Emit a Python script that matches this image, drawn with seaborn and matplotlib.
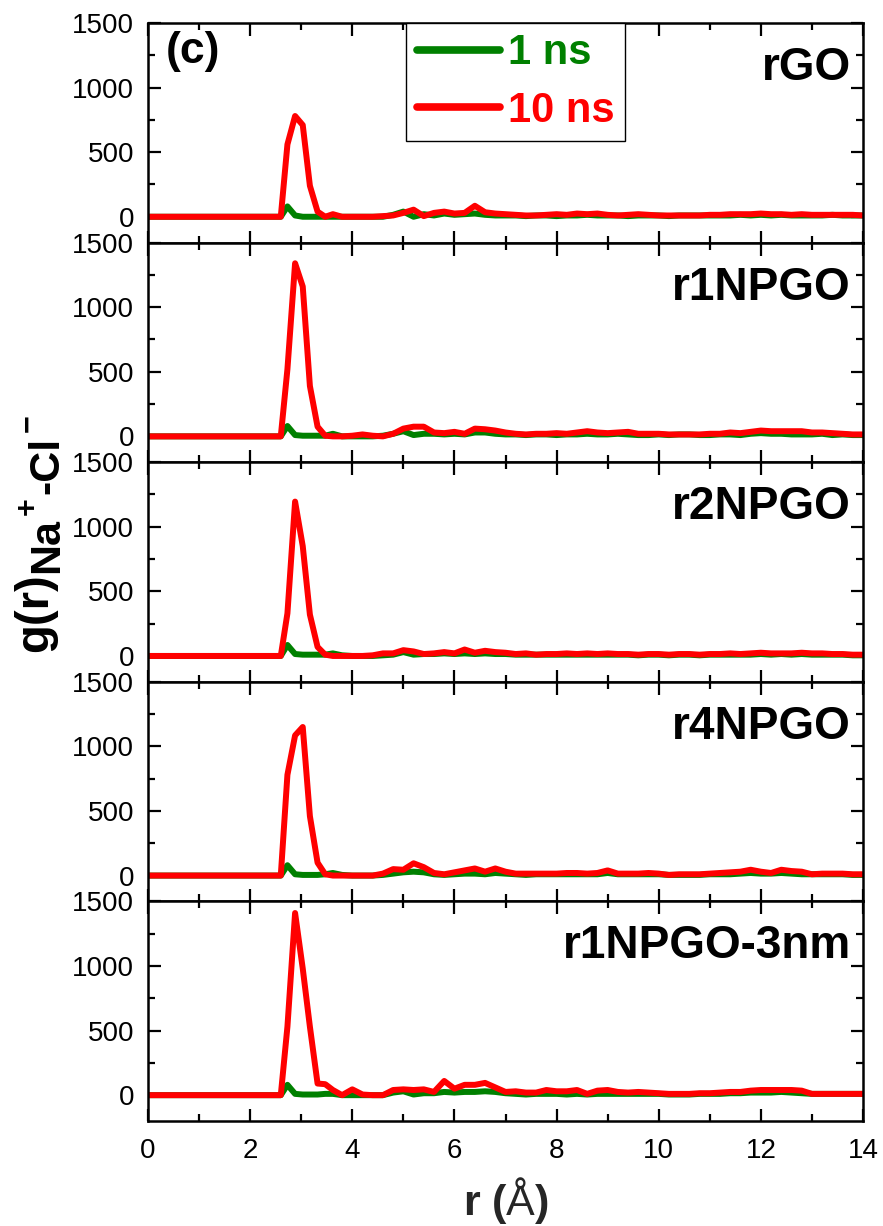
import matplotlib
matplotlib.use("Agg")
import matplotlib.pyplot as plt
import seaborn as sns
import pandas as pd
import numpy as np
from matplotlib.ticker import MultipleLocator

# ---------------- data ----------------
r_peak = [0.0, 2.6, 2.73, 2.88, 3.03, 3.17, 3.32, 3.47, 3.62]
r_tail = [3.8, 4.0, 4.2, 4.4, 4.6, 4.8, 5.0, 5.2, 5.4, 5.6, 5.8, 6.0, 6.2, 6.4, 6.6, 6.8,
          7.0, 7.2, 7.4, 7.6, 7.8, 8.0, 8.2, 8.4, 8.6, 8.8, 9.0, 9.2, 9.4, 9.6, 9.8,
          10.0, 10.2, 10.4, 10.6, 10.8, 11.0, 11.2, 11.4, 11.6, 11.8, 12.0, 12.2, 12.4,
          12.6, 12.8, 13.0, 13.2, 13.4, 13.6, 13.8, 14.0]
r_values = r_peak + r_tail

panels = ["rGO", "r1NPGO", "r2NPGO", "r4NPGO", "r1NPGO-3nm"]
series_names = ["1 ns", "10 ns"]

rGO_1ns = [0, 0, 80, 10, 0, 0, 0, 0, 0,
           0, 0, 0, 0, 0, 15, 40, 0, 20, 10, 25, 15, 20, 25, 15, 10,
           10, 10, 5, 10, 10, 5, 10, 10, 15, 10, 10, 10, 5, 10, 10,
           10, 5, 10, 10, 10, 10, 10, 10, 15, 10, 15, 10, 15, 10, 10,
           10, 10, 15, 10, 10, 10]
rGO_10ns = [0, 0, 560, 780, 710, 240, 40, 0, 20,
            0, 0, 0, 0, 5, 10, 30, 55, 5, 30, 40, 25, 30, 85, 35, 25,
            20, 15, 10, 10, 15, 20, 15, 25, 20, 25, 15, 10, 15, 20, 15,
            10, 10, 10, 10, 10, 15, 15, 20, 20, 20, 25, 20, 20, 15, 20,
            15, 15, 15, 15, 15, 10]

r1NPGO_1ns = [0, 0, 80, 10, 5, 5, 5, 5, 20,
              0, 0, 0, 0, 5, 20, 40, 10, 20, 20, 15, 20, 15, 30, 30, 20,
              15, 15, 10, 15, 15, 10, 15, 15, 20, 15, 15, 20, 15, 10, 10,
              15, 10, 15, 15, 10, 10, 15, 15, 10, 20, 25, 20, 20, 15, 15,
              15, 20, 10, 15, 10, 10]
r1NPGO_10ns = [0, 0, 520, 1340, 1160, 390, 75, 5, 0,
               0, 5, 15, 5, 0, 20, 60, 75, 75, 30, 25, 35, 20, 60, 55, 45,
               30, 20, 15, 20, 20, 25, 20, 30, 40, 30, 25, 30, 35, 20, 20,
               20, 15, 15, 15, 15, 20, 20, 30, 25, 35, 45, 40, 40, 40, 40,
               30, 30, 25, 20, 15, 15]

r2NPGO_1ns = [0, 0, 85, 15, 10, 10, 10, 10, 20,
              5, 0, 0, 0, 5, 10, 30, 10, 15, 15, 20, 15, 20, 15, 20, 15,
              15, 10, 10, 10, 10, 10, 10, 10, 10, 10, 10, 10, 10, 5, 10,
              10, 5, 10, 10, 5, 10, 10, 10, 10, 10, 15, 10, 15, 10, 15,
              10, 10, 10, 10, 5, 5]
r2NPGO_10ns = [0, 0, 330, 1195, 850, 320, 70, 10, 0,
               0, 0, 0, 5, 20, 20, 45, 35, 15, 20, 30, 20, 50, 25, 40, 30,
               25, 15, 20, 10, 15, 15, 20, 15, 20, 15, 20, 15, 15, 10, 15,
               15, 10, 15, 15, 10, 15, 15, 20, 15, 20, 25, 20, 20, 20, 25,
               20, 20, 15, 15, 10, 10]

r4NPGO_1ns = [0, 0, 80, 10, 5, 5, 5, 10, 20,
              5, 0, 0, 0, 5, 15, 25, 30, 25, 10, 5, 10, 15, 15, 10, 20,
              15, 10, 5, 10, 10, 10, 10, 10, 10, 10, 20, 10, 10, 10, 10,
              10, 5, 5, 5, 5, 10, 10, 10, 15, 20, 15, 15, 20, 15, 10,
              10, 10, 10, 10, 5, 5]
r4NPGO_10ns = [0, 0, 780, 1085, 1150, 460, 100, 10, 0,
               0, 0, 0, 0, 15, 50, 45, 95, 65, 20, 10, 25, 40, 55, 30, 55,
               30, 15, 15, 15, 15, 15, 20, 20, 15, 20, 40, 15, 15, 15, 20,
               15, 5, 10, 10, 10, 15, 20, 25, 30, 45, 30, 20, 45, 35, 30,
               10, 15, 15, 15, 10, 10]

r1NPGO3_1ns = [0, 0, 80, 10, 5, 5, 5, 10, 10,
               0, 0, 0, 0, 0, 20, 30, 5, 15, 15, 25, 20, 25, 25, 30, 25,
               15, 10, 5, 10, 10, 10, 5, 10, 5, 10, 10, 10, 10, 10, 10,
               10, 5, 5, 5, 10, 10, 10, 15, 15, 20, 20, 20, 25, 20, 15,
               10, 10, 10, 10, 10, 10]
r1NPGO3_10ns = [0, 0, 530, 1410, 980, 530, 90, 85, 40,
                0, 45, 5, 0, 0, 40, 45, 40, 45, 25, 110, 50, 80, 80, 95, 60,
                25, 30, 20, 20, 40, 30, 30, 40, 10, 35, 40, 25, 20, 25, 20,
                15, 10, 10, 10, 15, 15, 20, 25, 25, 35, 40, 40, 40, 40, 35,
                10, 10, 10, 10, 10, 10]

values_1ns = [rGO_1ns, r1NPGO_1ns, r2NPGO_1ns, r4NPGO_1ns, r1NPGO3_1ns]
values_10ns = [rGO_10ns, r1NPGO_10ns, r2NPGO_10ns, r4NPGO_10ns, r1NPGO3_10ns]

x_ticks = [0, 2, 4, 6, 8, 10, 12, 14]
y_ticks = [0, 500, 1000, 1500]

# ---------------- style ----------------
sns.set_theme(style="ticks")
plt.rcParams["font.family"] = ["Liberation Sans", "DejaVu Sans"]
plt.rcParams["mathtext.fontset"] = "custom"
plt.rcParams["mathtext.rm"] = "Liberation Sans"
plt.rcParams["mathtext.bf"] = "Liberation Sans:bold"
plt.rcParams["mathtext.it"] = "Liberation Sans:italic"

colors = {"1 ns": "#008000", "10 ns": "#FF0000"}
W, H = 883, 1226

fig = plt.figure(figsize=(8.83, 12.26), dpi=100)
left, right = 148 / W, 863 / W
top_px, bot_px = 23, 1121
h_px = (bot_px - top_px) / 5

axes = []
for i, name in enumerate(panels):
    y0 = 1 - (top_px + (i + 1) * h_px) / H
    ax = fig.add_axes([left, y0, right - left, h_px / H])
    axes.append(ax)
    df = pd.DataFrame({
        "r": r_values * 2,
        "g": values_1ns[i] + values_10ns[i],
        "series": ["1 ns"] * len(r_values) + ["10 ns"] * len(r_values),
    })
    sns.lineplot(data=df, x="r", y="g", hue="series", hue_order=series_names,
                 palette=colors, linewidth=4.3, ax=ax, legend=(i == 0),
                 solid_joinstyle="round", solid_capstyle="round")
    ax.set_xlim(0, 14)
    ax.set_ylim(-200, 1500)
    ax.set_xticks(x_ticks)
    ax.set_yticks(y_ticks)
    ax.xaxis.set_minor_locator(MultipleLocator(1))
    ax.yaxis.set_minor_locator(MultipleLocator(250))
    ax.tick_params(which="both", direction="in", top=True, right=True,
                   width=1.6, labelsize=20, colors="black")
    ax.tick_params(which="major", length=9)
    ax.tick_params(axis="y", which="major", pad=10)
    ax.tick_params(axis="x", which="major", pad=12)
    ax.tick_params(which="minor", length=5)
    for sp in ax.spines.values():
        sp.set_linewidth(1.8)
        sp.set_color("black")
    ax.set_xlabel("")
    ax.set_ylabel("")
    if i < 4:
        ax.tick_params(labelbottom=False)
    ax.text(0.983, 0.795, name, transform=ax.transAxes, ha="right", va="center",
            fontsize=33, fontweight="bold", color="black")

# legend on top panel
ax0 = axes[0]
leg = ax0.legend(loc="upper left", bbox_to_anchor=(0.361, 1.0), frameon=True,
                 fancybox=False, edgecolor="black", framealpha=1,
                 prop={"size": 30, "weight": "bold"}, handlelength=2.0,
                 handletextpad=0.2, borderpad=0.25, labelspacing=0.42,
                 borderaxespad=0)
leg.get_frame().set_linewidth(1.0)
for txt, nm in zip(leg.get_texts(), series_names):
    txt.set_color(colors[nm])
for ln in leg.get_lines():
    ln.set_linewidth(5.5)
ax0.text(0.025, 0.87, "(c)", transform=ax0.transAxes, ha="left", va="center",
         fontsize=32, fontweight="bold", color="black")

axes[-1].set_xlabel(r"$\mathbf{r\ (}$Å$\mathbf{)}$", fontsize=31, labelpad=8)

# y-axis label built from pieces (rotated, running upward)
renderer = fig.canvas.get_renderer()
pieces = [("g(r)", 34, 47, 0), ("Na", 31, 58, 0), ("+", 22, 36, 3),
          ("-Cl", 31, 58, 4), ("−", 22, 36, 4)]
ypos = 652  # image px of start (bottom) of the label
for txt, size, xbase, gap in pieces:
    t = fig.text(xbase / W, 1 - (ypos - gap) / H, txt, rotation=90,
                 rotation_mode="anchor", ha="left", va="baseline",
                 fontsize=size, fontweight="bold", color="black")
    bb = t.get_window_extent(renderer)
    ypos = ypos - gap - bb.height

fig.savefig("out.png", dpi=100)
